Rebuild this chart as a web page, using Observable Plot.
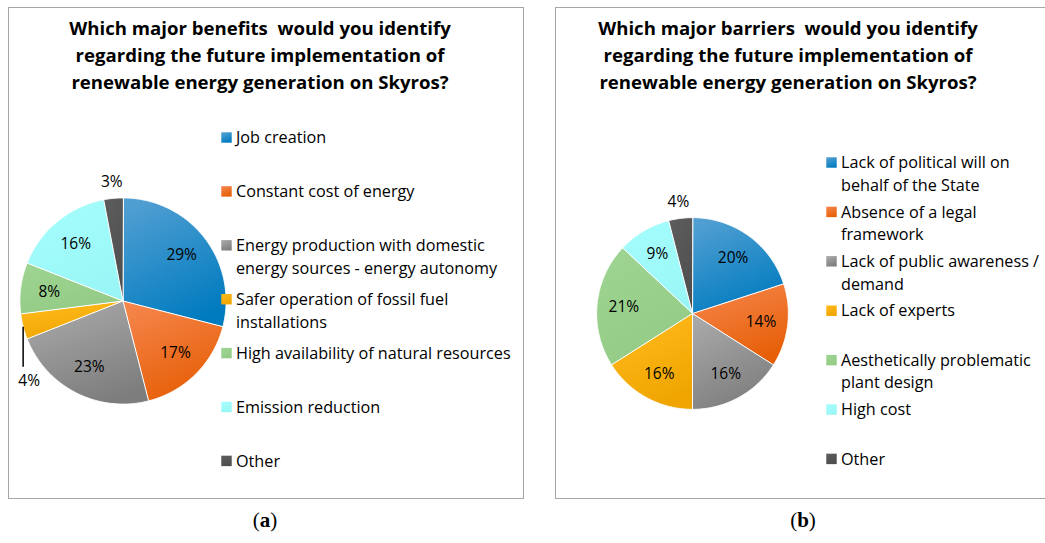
<!DOCTYPE html>
<html><head><meta charset="utf-8">
<script src="https://cdn.jsdelivr.net/npm/d3@7"></script>
<script src="https://cdn.jsdelivr.net/npm/@observablehq/plot@0.6"></script>
<style>
body{margin:0;background:#fff;width:1045px;height:543px;overflow:hidden;position:relative;font-family:"Open Sans",sans-serif;}
.panel{position:absolute;border:1.5px solid #a6a6a6;box-sizing:border-box;}
.title{position:absolute;font-weight:bold;font-size:18.6px;line-height:27px;text-align:center;color:#000;white-space:nowrap;}
.sub{position:absolute;font-family:"Liberation Serif",serif;font-size:21px;top:508px;width:60px;text-align:center;}
.abs{position:absolute;}
svg{overflow:visible;}
</style></head>
<body>
<div class="panel" style="left:8px;top:7px;width:516px;height:492px;"></div>
<div class="panel" style="left:555px;top:7px;width:520px;height:492px;"></div>
<div class="title" style="left:0px;width:520px;top:14px;">Which major benefits&nbsp; would you identify<br>regarding the future implementation of<br>renewable energy generation on Skyros?</div>
<div class="title" style="left:488px;width:600px;top:14px;">Which major barriers&nbsp; would you identify<br>regarding the future implementation of<br>renewable energy generation on Skyros?</div>
<div class="sub" style="left:235px;">(<b>a</b>)</div>
<div class="sub" style="left:773px;">(<b>b</b>)</div>
<script>
const benefitCategories = ["Job creation","Constant cost of energy","Energy production with domestic energy sources - energy autonomy","Safer operation of fossil fuel installations","High availability of natural resources","Emission reduction","Other"];
const benefitLegendLabels = ["Job creation","Constant cost of energy","Energy production with domestic\nenergy sources - energy autonomy","Safer operation of fossil fuel\ninstallations","High availability of natural resources","Emission reduction","Other"];
const benefitValues = [29,17,23,4,8,16,3];

const barrierCategories = ["Lack of political will on behalf of the State","Absence of a legal framework","Lack of public awareness / demand","Lack of experts","Aesthetically problematic plant design","High cost","Other"];
const barrierLegendLabels = ["Lack of political will on\nbehalf of the State","Absence of a legal\nframework","Lack of public awareness /\ndemand","Lack of experts","Aesthetically problematic\nplant design","High cost","Other"];
const barrierValues = [20,14,16,16,21,9,4];

const sliceColorsLight = ["#519fd2","#f5854b","#a9a9a9","#ffbb1c","#9dd491","#a4fdfd","#5c5c5c"];
const sliceColorsDark  = ["#007bbf","#e65e05","#7d7d7d","#efa400","#93cb86","#9af6f6","#4e4e4e"];
const FONT = "'Open Sans', sans-serif";

function addGradients(svg, prefix){
  const defs = d3.select(svg).insert("defs",":first-child");
  sliceColorsLight.forEach((c,i)=>{
    const g = defs.append("linearGradient").attr("id",prefix+"g"+i)
      .attr("x1","0.2").attr("y1","0").attr("x2","0.6").attr("y2","1");
    g.append("stop").attr("offset","0").attr("stop-color",c);
    g.append("stop").attr("offset","1").attr("stop-color",sliceColorsDark[i]);
  });
}

function makePie({values, cx, cy, r, prefix, outside}){
  const k = 1.45;
  const S = Math.round(2*k*r);
  const arcs = d3.pie().sort(null).value(d=>d)(values);
  const marks = arcs.map((a,i)=>{
    const pts=[{x:0,y:0}];
    const n = Math.max(4, Math.ceil((a.endAngle-a.startAngle)/0.01));
    for(let j=0;j<=n;j++){const t=a.startAngle+(a.endAngle-a.startAngle)*j/n; pts.push({x:Math.sin(t),y:Math.cos(t)});}
    return Plot.line(pts,{x:"x",y:"y",fill:`url(#${prefix}g${i})`,stroke:"white",strokeWidth:1,curve:"linear-closed"});
  });
  const labels=[]; const leaders=[];
  arcs.forEach((a,i)=>{
    const m=(a.startAngle+a.endAngle)/2;
    const o = outside[i];
    if(!o){ labels.push({x:0.72*Math.sin(m),y:0.72*Math.cos(m),t:values[i]+"%"}); }
    else if(o.radial){ labels.push({x:o.radial*Math.sin(m),y:o.radial*Math.cos(m),t:values[i]+"%"}); }
    else {
      const ex=Math.sin(m), ey=Math.cos(m);
      leaders.push({x1:ex,y1:ey,x2:ex,y2:ey-o.lead/r});
      labels.push({x:ex+o.dx/r,y:ey-o.dy/r,t:values[i]+"%"});
    }
  });
  marks.push(Plot.link(leaders,{x1:"x1",y1:"y1",x2:"x2",y2:"y2",stroke:"black",strokeWidth:1.5}));
  marks.push(Plot.text(labels,{x:"x",y:"y",text:"t",fontSize:15.5,fill:"#000"}));
  const svg = Plot.plot({width:S,height:S,margin:0,
    x:{domain:[-k,k],axis:null}, y:{domain:[-k,k],axis:null},
    style:{background:"transparent",fontFamily:FONT},
    marks});
  addGradients(svg,prefix);
  svg.classList.add("abs");
  svg.style.left=(cx-S/2)+"px"; svg.style.top=(cy-S/2)+"px";
  document.body.appendChild(svg);
}

function makeLegend({labels, prefix, sqX, firstY, step, fontSize}){
  const idx = labels.map((d,i)=>i);
  const H = Math.round(step*(labels.length-1)+60);
  const lh = 22.6/fontSize;
  const svg = Plot.plot({width:320,height:H,marginLeft:10,marginRight:0,marginTop:0,marginBottom:0,
    y:{domain:[0,labels.length-1],range:[20,20+step*(labels.length-1)],axis:null},
    color:{type:"identity"},
    style:{background:"transparent",fontFamily:FONT},
    marks:[
      Plot.dot(idx,{y:d=>d,frameAnchor:"left",symbol:"square",r:5.9,fill:d=>`url(#${prefix}g${d})`,stroke:"none"}),
      Plot.text(idx,{y:d=>d,frameAnchor:"left",dx:9.5,dy:-(0.71*lh-0.355)*fontSize,text:d=>labels[d],textAnchor:"start",lineAnchor:"top",lineHeight:lh,fontSize,fill:"#000"})
    ]});
  svg.classList.add("abs");
  svg.style.left=(sqX-10)+"px"; svg.style.top=(firstY-20)+"px";
  document.body.appendChild(svg);
}

makePie({values:benefitValues,cx:122,cy:300,r:103,prefix:"a",
  outside:{6:{radial:1.155},3:{dx:6,dy:54,lead:40}}});
makePie({values:barrierValues,cx:692,cy:313,r:96,prefix:"b",
  outside:{6:{radial:1.17}}});
makeLegend({labels:benefitLegendLabels,prefix:"a",sqX:225.5,firstY:137.3,step:53.9,fontSize:16.2});
makeLegend({labels:barrierLegendLabels,prefix:"b",sqX:830.5,firstY:161.7,step:49.4,fontSize:16.2});
</script>
</body></html>
